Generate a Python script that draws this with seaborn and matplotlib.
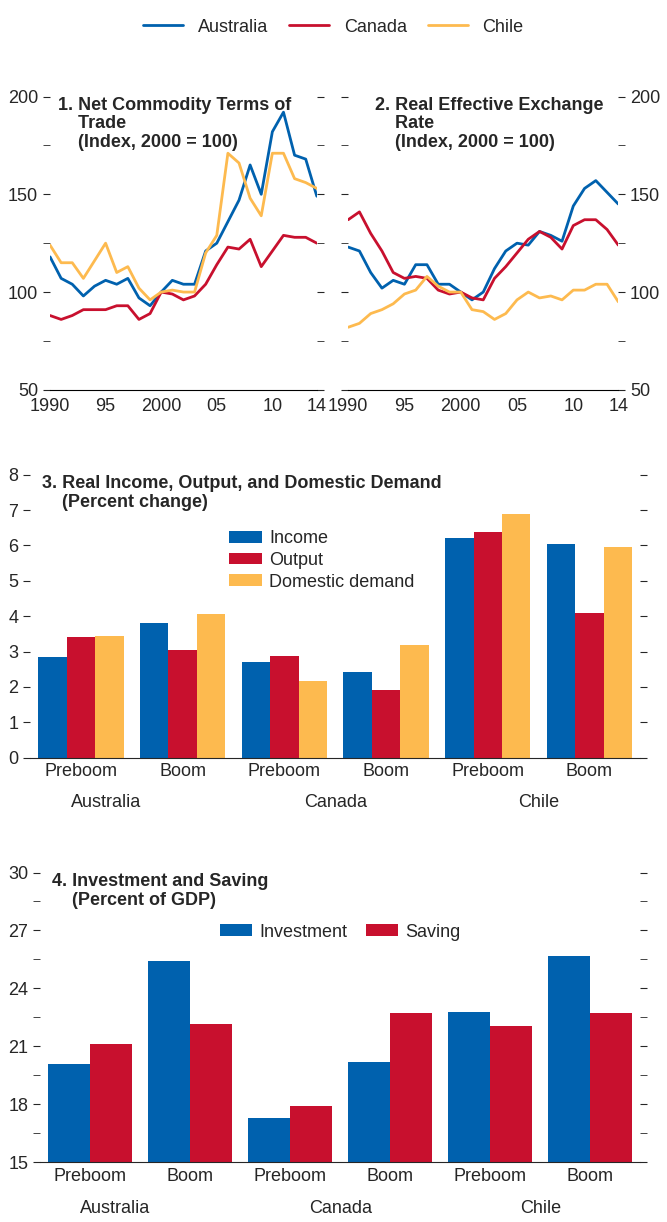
import numpy as np
import pandas as pd
import matplotlib
matplotlib.use("Agg")
import matplotlib.pyplot as plt
from matplotlib.ticker import MultipleLocator
import seaborn as sns

# data
years = list(range(1990, 2015))
tot_australia = [118, 107, 104, 98, 103, 106, 104, 107, 97, 93, 100, 106, 104, 104, 121, 125, 136, 147, 165, 150, 182, 192, 170, 168, 149]
tot_canada = [88, 86, 88, 91, 91, 91, 93, 93, 86, 89, 100, 99, 96, 98, 104, 114, 123, 122, 127, 113, 121, 129, 128, 128, 125]
tot_chile = [124, 115, 115, 107, 116, 125, 110, 113, 102, 96, 100, 101, 100, 100, 120, 129, 171, 166, 148, 139, 171, 171, 158, 156, 153]
reer_australia = [123, 121, 110, 102, 106, 104, 114, 114, 104, 104, 100, 96, 100, 112, 121, 125, 124, 131, 129, 126, 144, 153, 157, 151, 145]
reer_canada = [137, 141, 130, 121, 110, 107, 108, 107, 101, 99, 100, 97, 96, 107, 113, 120, 127, 131, 128, 122, 134, 137, 137, 132, 124]
reer_chile = [82, 84, 89, 91, 94, 99, 101, 108, 103, 100, 100, 91, 90, 86, 89, 96, 100, 97, 98, 96, 101, 101, 104, 104, 95]

countries = ["Australia", "Canada", "Chile"]
periods = ["Preboom", "Boom"]
income = [2.85, 3.8, 2.7, 2.42, 6.2, 6.05]
output = [3.4, 3.05, 2.88, 1.92, 6.37, 4.1]
dom_demand = [3.45, 4.05, 2.17, 3.18, 6.88, 5.95]
investment = [20.1, 25.4, 17.3, 20.2, 22.8, 25.65]
saving = [21.1, 22.15, 17.9, 22.7, 22.05, 22.7]

BLUE, RED, YELLOW = "#0061AE", "#C8102E", "#FDBA4F"
palette = {"Australia": BLUE, "Canada": RED, "Chile": YELLOW}

sns.set_style("white")
plt.rcParams["font.family"] = ["Liberation Sans Narrow", "Liberation Sans", "DejaVu Sans"]
plt.rcParams["font.size"] = 12

fig = plt.figure(figsize=(6.67, 12.22), dpi=100)


def line_panel(rect, series, title, right):
    ax = fig.add_axes(rect)
    df = pd.DataFrame({"year": years * 3,
                       "value": series[0] + series[1] + series[2],
                       "country": [c for c in countries for _ in years]})
    sns.lineplot(data=df, x="year", y="value", hue="country", palette=palette,
                 linewidth=2, ax=ax, legend=False)
    ax.set_xlim(1990, 2014)
    ax.set_ylim(50, 200)
    for s in ["top", "left", "right"]:
        ax.spines[s].set_visible(False)
    ax.spines["bottom"].set_color("black")
    ax.set_xticks([1990, 1995, 2000, 2005, 2010, 2014])
    ax.set_xticklabels(["1990", "95", "2000", "05", "10", "14"], fontsize=13)
    ax.tick_params(axis="x", direction="in", length=6, pad=6)
    ax.xaxis.set_minor_locator(MultipleLocator(1))
    ax.tick_params(axis="x", which="minor", direction="in", length=3)
    ax.yaxis.set_major_locator(MultipleLocator(50))
    ax.yaxis.set_minor_locator(MultipleLocator(25))
    ax.tick_params(axis="y", which="both", left=True, right=True, direction="out",
                   length=5, labelleft=not right, labelright=right, labelsize=13)
    ax.set_xlabel("")
    ax.set_ylabel("")
    ax.text(0.03 if not right else 0.1, 1.0, title, transform=ax.transAxes, va="top",
            fontsize=13, fontweight="bold", linespacing=1.15)
    return ax


line_panel([0.075, 0.681, 0.40, 0.240], [tot_australia, tot_canada, tot_chile],
           "1. Net Commodity Terms of\n    Trade\n    (Index, 2000 = 100)", False)
line_panel([0.522, 0.681, 0.405, 0.240], [reer_australia, reer_canada, reer_chile],
           "2. Real Effective Exchange\n    Rate\n    (Index, 2000 = 100)", True)

handles = [plt.Line2D([], [], color=palette[c], lw=2) for c in countries]
fig.legend(handles, countries, loc="upper center", bbox_to_anchor=(0.5, 0.998), ncol=3,
           frameon=False, fontsize=13, handlelength=2.2, columnspacing=1.2)


def bar_panel(rect, values, names, colors, ylim, major, minor, title, legend_kw):
    ax = fig.add_axes(rect)
    cats = [f"{c}-{p}" for c in countries for p in periods]
    df = pd.DataFrame({"cat": cats * len(values),
                       "value": sum(values, []),
                       "series": [n for n in names for _ in cats]})
    sns.barplot(data=df, x="cat", y="value", hue="series", palette=dict(zip(names, colors)),
                width=0.84, saturation=1, linewidth=0, ax=ax)
    ax.set_ylim(*ylim)
    ax.set_xlim(-0.5, 5.5)
    for s in ["top", "left", "right"]:
        ax.spines[s].set_visible(False)
    ax.set_xticks(range(6))
    ax.set_xticklabels(periods * 3, fontsize=13)
    ax.tick_params(axis="x", length=0, pad=4)
    ax.set_xticks([-0.5, 1.5, 3.5, 5.5], minor=True)
    ax.tick_params(axis="x", which="minor", direction="in", length=14)
    ax.yaxis.set_major_locator(MultipleLocator(major))
    ax.yaxis.set_minor_locator(MultipleLocator(minor))
    ax.tick_params(axis="y", which="both", left=True, right=True, direction="out",
                   length=5, labelsize=13)
    ax.set_xlabel("")
    ax.set_ylabel("")
    for i, c in enumerate(countries):
        ax.text(2 * i + 0.5 - (0.25 if i == 0 else 0), -0.13, c, transform=ax.get_xaxis_transform(),
                ha="center", va="top", fontsize=13)
    ax.text(0.02, 1.0, title, transform=ax.transAxes, va="top", fontsize=13,
            fontweight="bold", linespacing=1.2)
    ax.legend(frameon=False, fontsize=13, handlelength=1.8, handleheight=0.6,
              handletextpad=0.4, labelspacing=0.25, **legend_kw)
    return ax


bar_panel([0.045, 0.380, 0.915, 0.2316], [income, output, dom_demand],
          ["Income", "Output", "Domestic demand"], [BLUE, RED, YELLOW], (0, 8), 1, 1,
          "3. Real Income, Output, and Domestic Demand\n    (Percent change)",
          dict(loc="upper left", bbox_to_anchor=(0.3, 0.86), ncol=1))
bar_panel([0.06, 0.049, 0.90, 0.237], [investment, saving],
          ["Investment", "Saving"], [BLUE, RED], (15, 30), 3, 1.5,
          "4. Investment and Saving\n    (Percent of GDP)",
          dict(loc="upper center", bbox_to_anchor=(0.5, 0.88), ncol=2, columnspacing=1.0))

fig.savefig("out.png", dpi=100)
